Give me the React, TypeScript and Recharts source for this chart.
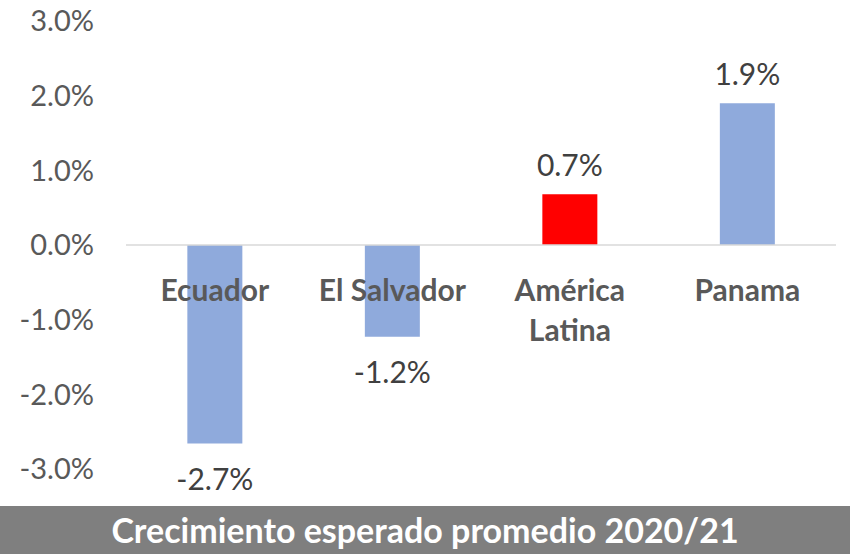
import { Bar, BarChart, Cell, LabelList, ReferenceLine, XAxis, YAxis } from "recharts";

const CATEGORIES = ["Ecuador", "El Salvador", "América\nLatina", "Panama"];
const GROWTH = [-2.66, -1.23, 0.68, 1.9];
const HIGHLIGHT = [false, false, true, false];
const Y_TICKS = [-3, -2, -1, 0, 1, 2, 3];
const TITLE = "Crecimiento esperado promedio 2020/21";

const FONT = "Lato, 'Open Sans', sans-serif";
const BLUE = "#8FAADC";
const RED = "#FF0000";

const data = CATEGORIES.map((name, i) => ({ name, value: GROWTH[i], highlight: HIGHLIGHT[i] }));

const fmt = (v: number) => `${v.toFixed(1)}%`;

function zeroOf(props: any) {
  const { y, height, value } = props;
  if (value >= 0) return y + height;
  return height < 0 ? y + height : y;
}

function ValueLabel(props: any) {
  const { x, y, width, height, value } = props;
  const cx = x + width / 2;
  const top = Math.min(y, y + height);
  const bottom = Math.max(y, y + height);
  const ty = value >= 0 ? top - 18 : bottom + 46;
  return (
    <text x={cx} y={ty} textAnchor="middle" fill="#404040" fontSize={30} fontFamily={FONT}>
      {fmt(value)}
    </text>
  );
}

function CategoryLabel(props: any) {
  const { x, width, index } = props;
  const cx = x + width / 2;
  const zero = zeroOf({ ...props, value: GROWTH[index] });
  const lines = CATEGORIES[index].split("\n");
  return (
    <text textAnchor="middle" fill="#595959" fontSize={30} fontWeight="bold" fontFamily={FONT}>
      {lines.map((line, i) => (
        <tspan key={line} x={cx} y={zero + 56 + i * 40}>
          {line}
        </tspan>
      ))}
    </text>
  );
}

export default function App() {
  return (
    <div style={{ position: "absolute", left: 0, top: 0, width: 850, height: 554, background: "#fff" }}>
      <BarChart
        width={850}
        height={505}
        data={data}
        margin={{ top: 21, right: 14, bottom: 36, left: 0 }}
        barCategoryGap="34%"
      >
        <XAxis dataKey="name" hide />
        <YAxis
          domain={[-3, 3]}
          ticks={Y_TICKS}
          width={126}
          tickFormatter={fmt}
          tickLine={false}
          axisLine={false}
          tickSize={0}
          tickMargin={32}
          interval={0}
          tick={{ fill: "#595959", fontSize: 29, fontFamily: FONT }}
        />
        <ReferenceLine y={0} stroke="#D9D9D9" strokeWidth={1.5} />
        <Bar dataKey="value" isAnimationActive={false} maxBarSize={55}>
          {data.map((d) => (
            <Cell key={d.name} fill={d.highlight ? RED : BLUE} />
          ))}
          <LabelList dataKey="value" content={ValueLabel} />
          <LabelList dataKey="name" content={CategoryLabel} />
        </Bar>
      </BarChart>
      <div
        style={{
          position: "absolute",
          left: 0,
          top: 506,
          width: 850,
          height: 48,
          background: "#7F7F7F",
          color: "#fff",
          fontFamily: FONT,
          fontWeight: "bold",
          fontSize: 34,
          lineHeight: "48px",
          textAlign: "center",
        }}
      >
        {TITLE}
      </div>
    </div>
  );
}
